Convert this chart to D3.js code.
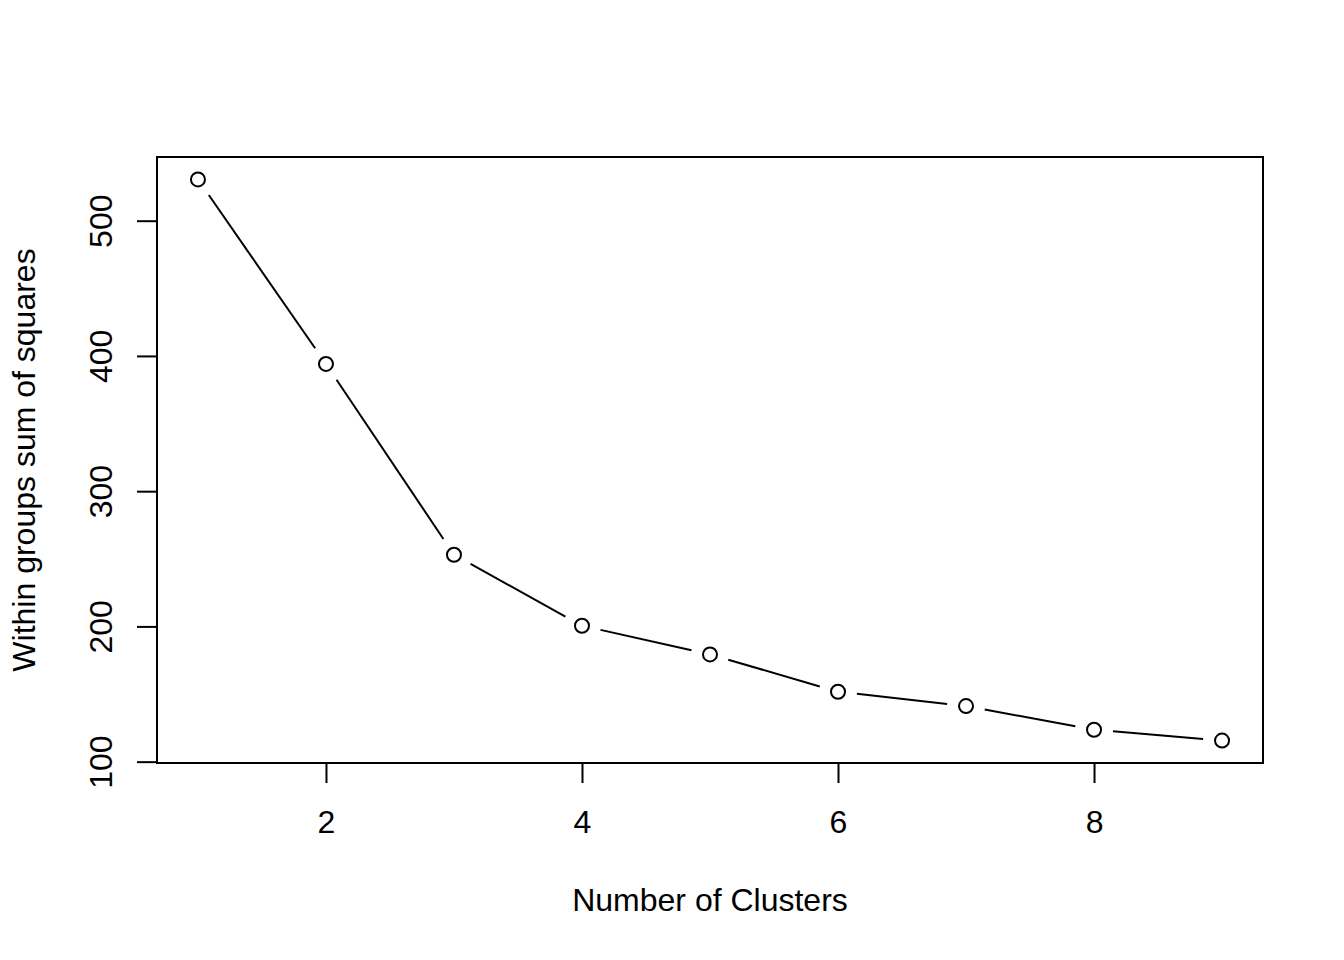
<!DOCTYPE html>
<html>
<head>
<meta charset="utf-8">
<script src="https://cdn.jsdelivr.net/npm/d3@7"></script>
<style>
  html, body { margin: 0; padding: 0; background: #fff; }
  svg { display: block; }
  text { font-family: "Liberation Sans", Arial, Helvetica, sans-serif; fill: #000; }
</style>
</head>
<body>
<svg id="chart" width="1344" height="960"></svg>
<script>
// ---- data ----
const clusters = [1, 2, 3, 4, 5, 6, 7, 8, 9];
const wss = [530.5, 394.1, 253.0, 200.5, 179.3, 151.7, 141.1, 123.6, 115.6];
const xTicks = [2, 4, 6, 8];
const yTicks = [100, 200, 300, 400, 500];
const xTitle = "Number of Clusters";
const yTitle = "Within groups sum of squares";

// ---- layout ----
const plotL = 157, plotR = 1263, plotT = 157, plotB = 763;
const svg = d3.select("#chart");

function rExtend(ext) {
  const d = (ext[1] - ext[0]) * 0.04;
  return [ext[0] - d, ext[1] + d];
}
const x = d3.scaleLinear().domain(rExtend(d3.extent(clusters))).range([plotL, plotR]);
const y = d3.scaleLinear().domain(rExtend(d3.extent(wss))).range([plotB, plotT]);

const pts = clusters.map((c, i) => [x(c), y(wss[i])]);

// line segments with gaps around points (R type = "b")
const gap = 19;
const segs = [];
for (let i = 0; i < pts.length - 1; i++) {
  const [x0, y0] = pts[i], [x1, y1] = pts[i + 1];
  const dx = x1 - x0, dy = y1 - y0, L = Math.hypot(dx, dy);
  if (L <= 2 * gap) continue;
  const ux = dx / L, uy = dy / L;
  segs.push([x0 + ux * gap, y0 + uy * gap, x1 - ux * gap, y1 - uy * gap]);
}
svg.append("g").selectAll("line").data(segs).join("line")
  .attr("x1", d => d[0]).attr("y1", d => d[1])
  .attr("x2", d => d[2]).attr("y2", d => d[3])
  .attr("stroke", "#000").attr("stroke-width", 2);

svg.append("g").selectAll("circle").data(pts).join("circle")
  .attr("cx", d => d[0]).attr("cy", d => d[1]).attr("r", 7)
  .attr("fill", "none").attr("stroke", "#000").attr("stroke-width", 2);

// axes
const xAxis = d3.axisBottom(x).tickValues(xTicks).tickSize(20).tickFormat(d3.format("d"));
const gx = svg.append("g").attr("transform", `translate(0,${plotB})`).call(xAxis);
gx.select(".domain").attr("d", `M${x(xTicks[0])},0H${x(xTicks[xTicks.length-1])}`).attr("stroke-width", 2);
gx.selectAll(".tick line").attr("stroke-width", 2);
gx.selectAll(".tick text").attr("font-size", 32).attr("font-family", null).attr("dy", null)
  .attr("y", 833 - plotB);

const yAxis = d3.axisLeft(y).tickValues(yTicks).tickSize(20).tickFormat(d3.format("d"));
const gy = svg.append("g").attr("transform", `translate(${plotL},0)`).call(yAxis);
gy.select(".domain").attr("d", `M0,${y(yTicks[0])}V${y(yTicks[yTicks.length-1])}`).attr("stroke-width", 2);
gy.selectAll(".tick line").attr("stroke-width", 2);
gy.selectAll(".tick text")
  .attr("font-size", 32).attr("font-family", null)
  .attr("x", null).attr("dy", null)
  .attr("text-anchor", "middle")
  .attr("transform", `translate(${112 - plotL},0) rotate(-90)`);

// box
svg.append("rect").attr("x", plotL).attr("y", plotT)
  .attr("width", plotR - plotL).attr("height", plotB - plotT)
  .attr("fill", "none").attr("stroke", "#000").attr("stroke-width", 2);

// titles
svg.append("text").attr("x", (plotL + plotR) / 2).attr("y", 911)
  .attr("text-anchor", "middle").attr("font-size", 32).text(xTitle);
svg.append("text").attr("transform", `translate(35,${(plotT + plotB) / 2}) rotate(-90)`)
  .attr("text-anchor", "middle").attr("font-size", 32).text(yTitle);
</script>
</body>
</html>
